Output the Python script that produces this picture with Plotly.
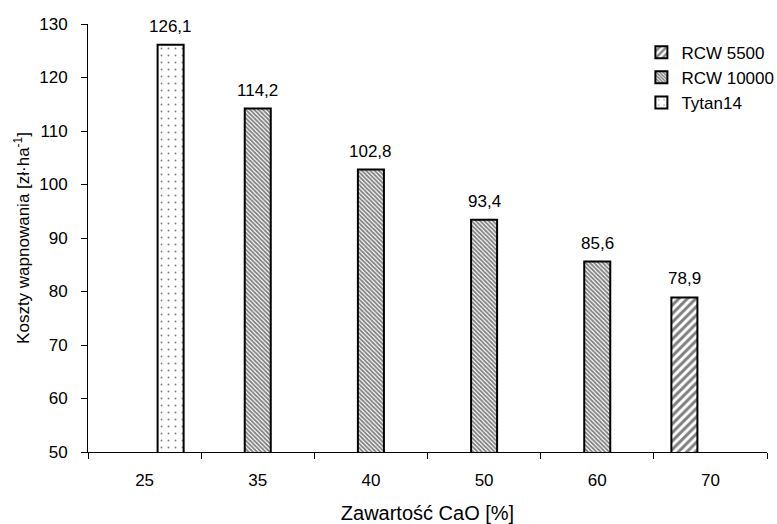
import plotly.graph_objects as go

# Lime content categories and liming cost per series
categories = ["25", "35", "40", "50", "60", "70"]
rcw5500 = [None, None, None, None, None, 78.9]
rcw10000 = [None, 114.2, 102.8, 93.4, 85.6, None]
tytan14 = [126.1, None, None, None, None, None]

series = [
    ("RCW 5500", rcw5500, dict(shape="/", size=6, solidity=0.5)),
    ("RCW 10000", rcw10000, dict(shape="\\", size=3, solidity=0.6)),
    ("Tytan14", tytan14, dict(shape=".", size=7, solidity=0.06)),
]

FONT = "Liberation Sans, Arial, sans-serif"
bargap = 0.31
n_series = len(series)
slot = (1 - bargap) / n_series

fig = go.Figure()
annotations = []
for k, (name, vals, pat) in enumerate(series):
    fig.add_trace(go.Bar(
        name=name,
        x=categories,
        y=vals,
        marker=dict(
            color="white",
            line=dict(color="black", width=2),
            pattern=dict(fgcolor="black", bgcolor="white", fillmode="overlay", **pat),
        ),
    ))
    for i, v in enumerate(vals):
        if v is None:
            continue
        annotations.append(dict(
            x=i + (k - (n_series - 1) / 2) * slot,
            y=v,
            xref="x", yref="y",
            text=f"{v:.1f}".replace(".", ","),
            showarrow=False,
            yanchor="bottom",
            yshift=7,
            font=dict(family=FONT, size=17, color="black"),
        ))

fig.update_layout(
    width=777, height=524,
    margin=dict(l=88, r=10, t=24, b=72, autoexpand=False),
    paper_bgcolor="white", plot_bgcolor="white",
    barmode="group", bargap=bargap, bargroupgap=0,
    font=dict(family=FONT, size=17, color="black"),
    showlegend=True,
    legend=dict(
        x=0.815, y=0.975, xanchor="left", yanchor="top",
        font=dict(family=FONT, size=17, color="black"),
        bgcolor="rgba(0,0,0,0)", tracegroupgap=0,
        itemwidth=30,
    ),
    annotations=annotations,
)

fig.update_xaxes(
    type="category",
    showline=True, linecolor="black", linewidth=1,
    ticks="outside", ticklen=6, tickcolor="black", tickson="boundaries",
    ticklabelstandoff=13,
    showgrid=False,
    tickfont=dict(family=FONT, size=17),
    title=dict(text="Zawartość CaO [%]", font=dict(family=FONT, size=20), standoff=19),
)
fig.update_yaxes(
    range=[50, 130], dtick=10,
    showline=True, linecolor="black", linewidth=1,
    ticks="outside", ticklen=6, tickcolor="black",
    ticklabelstandoff=10,
    showgrid=False, zeroline=False,
    tickfont=dict(family=FONT, size=17),
    title=dict(text="Koszty wapnowania [zł·ha<sup>-1</sup>]", font=dict(family=FONT, size=17), standoff=5),
)

fig.write_html("out.html")
